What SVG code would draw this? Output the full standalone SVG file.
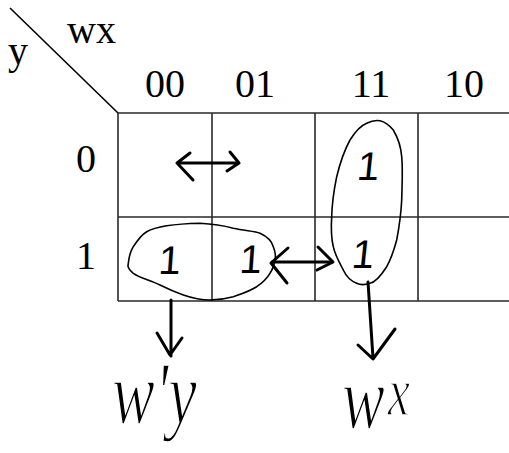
<svg xmlns="http://www.w3.org/2000/svg" width="509" height="453" viewBox="0 0 509 453">
<style>
.lbl{font-family:"Liberation Serif","Times New Roman",serif;font-size:40px;fill:#000}
.grid{stroke:#2a2a2a;stroke-width:1.6;fill:none}
.loop{stroke:#000;stroke-width:1.6;fill:none;stroke-linejoin:round}
.pen{stroke:#000;stroke-width:3;fill:none;stroke-linecap:round;stroke-linejoin:round}
.one{font-family:"Liberation Sans","Arial",sans-serif;font-size:40px;fill:#000}
.hand{font-family:"Liberation Serif","Times New Roman",serif;font-style:italic;fill:#000;stroke:#fff;stroke-width:1.2}
</style>
<rect width="509" height="453" fill="#fff"/>

<g id="corner">
  <line x1="10" y1="8" x2="118" y2="113" stroke="#000" stroke-width="1.6"/>
  <text class="lbl" x="67" y="43">wx</text>
  <text class="lbl" x="8" y="64">y</text>
</g>

<g id="col-headers">
  <text class="lbl" x="165" y="97" text-anchor="middle">00</text>
  <text class="lbl" x="255" y="97" text-anchor="middle">01</text>
  <text class="lbl" x="371" y="97" text-anchor="middle">11</text>
  <text class="lbl" x="464" y="97" text-anchor="middle">10</text>
</g>

<g id="row-headers">
  <text class="lbl" x="86" y="172" text-anchor="middle">0</text>
  <text class="lbl" x="86" y="269" text-anchor="middle">1</text>
</g>

<g id="grid">
  <path class="grid" d="M118 113 H509 M118 217 H509 M118 301 H509 M118 113 V301 M212 113 V301 M315 113 V301 M418 113 V301"/>
</g>

<g id="cells">
  <g id="cell-y1-00"><text class="one" x="170" y="274" text-anchor="middle" transform="skewX(-4)" dx="18">1</text></g>
  <g id="cell-y1-01"><text class="one" x="251" y="273" text-anchor="middle" transform="skewX(-4)" dx="18">1</text></g>
  <g id="cell-y0-11"><text class="one" x="368" y="180" text-anchor="middle" transform="skewX(-6)" dx="18">1</text></g>
  <g id="cell-y1-11"><text class="one" x="364" y="268" text-anchor="middle" transform="skewX(-6)" dx="26">1</text></g>
</g>

<g id="group-wpy">
  <path class="loop" d="M146.7 231.7 C155 227 170 224 200 223.3 C215 224 225 226 233.3 228.3 C245 231 255 231 260 233.3 C268 237 272 242 273.3 246.7 C275 251 276 256 275 260 C274 265 273 269 270 273.3 C266 280 262 283 256.7 286.7 C248 292 241 294 233.3 296.7 C225 299 218 300 210 300 C200 300 192 298 183.3 295 C175 292 168 289 160 285 C150 280 140 278 133.3 273.3 C129 270 127 267 128.3 263.3 C129 257 130 252 133.3 246.7 C137 241 141 235 146.7 231.7 Z"/>
  <text class="hand" transform="translate(0,423) scale(1,1.4)" font-size="64" x="112" y="0">w'y</text>
</g>

<g id="group-wx">
  <path class="loop" d="M380 120.7 C386 122 390 126 393.3 130 C398 138 401 147 401.7 156.7 C403 170 402 186 401.7 200 C401 214 399 228 396.7 240 C394 250 391 259 386.7 266.7 C382 274 376 282 370 283.3 C365 285 360 285 356.7 283.3 C351 281 346 276 343.3 270 C339 262 335 255 333.3 246.7 C331 237 331 227 331.7 216.7 C332 203 334 190 336.7 176.7 C340 163 344 151 350 140 C355 132 360 126 366.7 123.3 C371 121 376 120 380 120.7 Z"/>
  <text class="hand" transform="translate(0,428) scale(1,1.4)" font-size="64" x="342" y="0">w<tspan dx="3" dy="-9" font-size="50">x</tspan></text>
</g>

<g id="connectors">
  <path class="pen" d="M177 163 H239 M190 153 L177 163 L193 180 M230 152 L239 163 L227 171"/>
  <path class="pen" stroke-width="1.6" d="M272 262 H332"/>
  <path class="pen" d="M288 248 L271 263 L287 283 M318 247 L333 262 L317 270"/>
  <path class="pen" d="M171 300 V356 M157 333 L170 355 L182 338"/>
  <path class="pen" d="M368 282 L373 358 M358 345 L373 359 L395 329"/>
</g>
</svg>
